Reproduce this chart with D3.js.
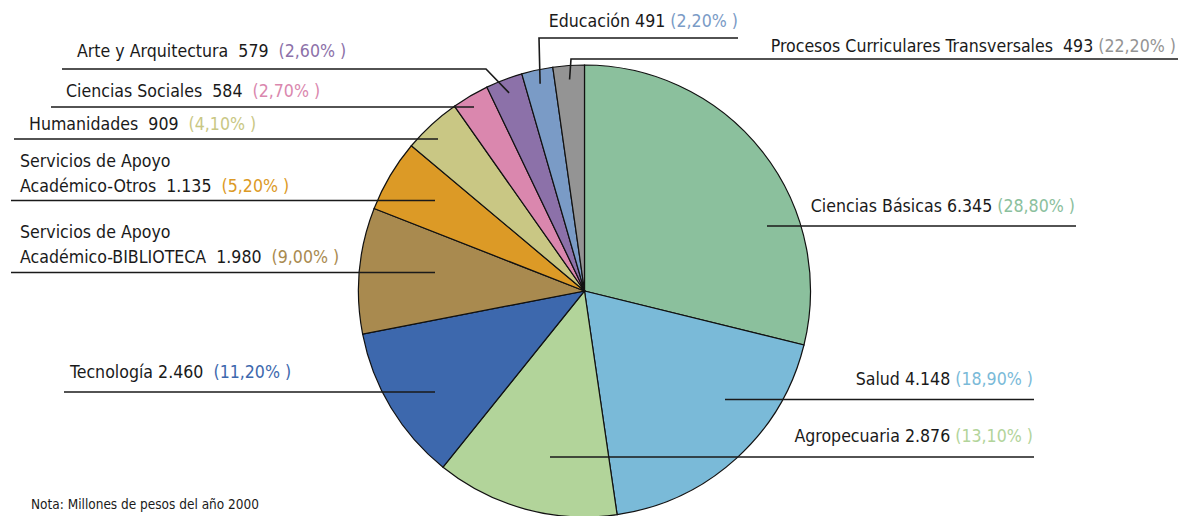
<!DOCTYPE html>
<html>
<head>
<meta charset="utf-8">
<script src="https://cdn.jsdelivr.net/npm/d3@7"></script>
<style>
  body { margin: 0; background: #fff; }
  svg text { font-family: "Liberation Sans Narrow", "DejaVu Sans Condensed", sans-serif; white-space: pre; }
</style>
</head>
<body>
<svg id="chart" width="1181" height="516"></svg>
<script>
// data, clockwise from 12 o'clock
const categories = [
  ["Ciencias Básicas"],
  ["Salud"],
  ["Agropecuaria"],
  ["Tecnología"],
  ["Servicios de Apoyo", "Académico-BIBLIOTECA"],
  ["Servicios de Apoyo", "Académico-Otros"],
  ["Humanidades"],
  ["Ciencias Sociales"],
  ["Arte y Arquitectura"],
  ["Educación"],
  ["Procesos Curriculares Transversales"]
];
const values = [6345, 4148, 2876, 2460, 1980, 1135, 909, 584, 579, 491, 493];
const pctLabels = ["28,80%", "18,90%", "13,10%", "11,20%", "9,00%", "5,20%", "4,10%", "2,70%", "2,60%", "2,20%", "22,20%"];
// spacing between name / value / percentage as printed
const gaps = [[" ", " "], [" ", " "], [" ", " "], [" ", "  "], ["  ", "  "], ["  ", "  "],
              ["  ", "  "], ["  ", "  "], ["  ", "  "], [" ", " "], ["  ", " "]];
const colors = ["#8bc09d", "#7abad8", "#b2d49a", "#3d68ad", "#a98a4f", "#dc9a26",
                "#c9c784", "#da87ae", "#8c71a9", "#7a9bc6", "#949494"];

// label layout: text anchor/pos, baseline of last line, leader line
const layout = [
  { anchor: "end",   x: 1075, y: 212, ly: 226,   x0: 767, x1: 1076 },
  { anchor: "end",   x: 1033, y: 385, ly: 399.5, x0: 725, x1: 1034 },
  { anchor: "end",   x: 1033, y: 442, ly: 457,   x0: 550, x1: 1034 },
  { anchor: "start", x: 70,   y: 378, ly: 392,   x0: 64,  x1: 435 },
  { anchor: "start", x: 20,   y: 263, ly: 272.5, x0: 11,  x1: 435 },
  { anchor: "start", x: 20,   y: 192, ly: 200.5, x0: 11,  x1: 435 },
  { anchor: "start", x: 29,   y: 130, ly: 139,   x0: 14,  x1: 438 },
  { anchor: "start", x: 66,   y: 97,  ly: 107,   x0: 51,  x1: 474 },
  { anchor: "start", x: 77,   y: 57,  ly: 69,    x0: 62,  x1: 486, elbow: true },
  { anchor: "end",   x: 738,  y: 27,  ly: 38,    x0: 539, x1: 738, elbow: true },
  { anchor: "end",   x: 1176, y: 52,  ly: 59,    x0: 571, x1: 1178, elbow: true }
];

const svg = d3.select("#chart");
const cx = 584.5, cy = 291, radius = 226;

const fmt = d3.formatLocale({ decimal: ",", thousands: ".", grouping: [3], currency: ["", ""] }).format(",");

const pie = d3.pie().sort(null).value(d => d);
const arcs = pie(values);
const arc = d3.arc().innerRadius(0).outerRadius(radius);
const leaderArc = d3.arc().innerRadius(212).outerRadius(212);

const g = svg.append("g").attr("transform", `translate(${cx},${cy})`);

g.selectAll("path.slice")
  .data(arcs)
  .join("path")
  .attr("class", "slice")
  .attr("d", arc)
  .attr("fill", (d, i) => colors[i])
  .attr("stroke", "#111")
  .attr("stroke-width", 1.2);

// leader lines
const leaders = svg.append("g");
arcs.forEach((d, i) => {
  const L = layout[i];
  let pts;
  if (L.elbow) {
    const [ax, ay] = leaderArc.centroid(d);
    const px = cx + ax, py = cy + ay;
    if (L.x0 > 500) {
      pts = [[px, py], [L.x0, L.ly], [L.x1, L.ly]];
    } else {
      pts = [[L.x0, L.ly], [L.x1, L.ly], [px, py]];
    }
  } else {
    pts = [[L.x0, L.ly], [L.x1, L.ly]];
  }
  leaders.append("path")
    .attr("d", d3.line()(pts))
    .attr("fill", "none")
    .attr("stroke", "#1a1a1a")
    .attr("stroke-width", 1.6);
});

// labels
const lineH = 25.5;
categories.forEach((name, i) => {
  const L = layout[i];
  const t = svg.append("text")
    .attr("text-anchor", L.anchor)
    .attr("font-size", 17.6)
    .attr("fill", "#1a1a1a");
  name.forEach((ln, k) => {
    const last = k === name.length - 1;
    const ts = t.append("tspan")
      .attr("x", L.x)
      .attr("y", L.y - (name.length - 1 - k) * lineH)
      .text(ln + (last ? gaps[i][0] + fmt(values[i]) + gaps[i][1] : ""));
    if (last) {
      t.append("tspan").attr("fill", colors[i]).text("(" + pctLabels[i] + " )");
    }
  });
});

svg.append("text")
  .attr("x", 31)
  .attr("y", 509)
  .attr("font-size", 13.5)
  .attr("fill", "#1a1a1a")
  .text("Nota: Millones de pesos del año 2000");
</script>
</body>
</html>
